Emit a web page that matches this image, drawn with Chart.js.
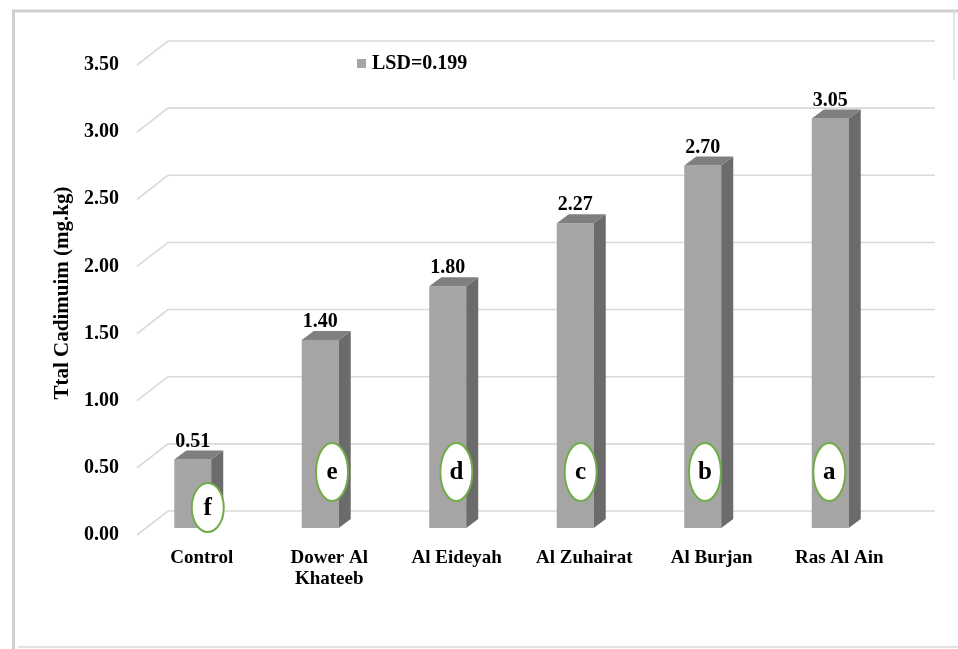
<!DOCTYPE html>
<html><head><meta charset="utf-8">
<script src="https://cdn.jsdelivr.net/npm/chart.js@4"></script>
<style>html,body{margin:0;padding:0;background:#fff;}#wrap{width:958px;height:649px;}</style>
</head><body><div id="wrap"><canvas id="c" width="958" height="649"></canvas></div>
<script>
// ---- data ----
const categories = ['Control', ['Dower Al', 'Khateeb'], 'Al Eideyah', 'Al Zuhairat', 'Al Burjan', 'Ras Al Ain'];
const values = [0.51, 1.40, 1.80, 2.27, 2.70, 3.05];
const groups = ['f', 'e', 'd', 'c', 'b', 'a'];
const yTickValues = [0, 0.5, 1.0, 1.5, 2.0, 2.5, 3.0, 3.5];
const seriesLabel = 'LSD=0.199';
const yTitle = 'Ttal Cadimuim (mg.kg)';

// ---- style ----
const FRONT = '#A5A5A5', TOP = '#7F7F7F', SIDE = '#6B6B6B';
const DX = 12, DY = 9;
const SERIF = "'Liberation Serif', 'Times New Roman', serif";

const framePlugin = {
  id: 'frame',
  beforeDraw(chart) {
    const ctx = chart.ctx;
    ctx.save();
    ctx.fillStyle = '#fff';
    ctx.fillRect(0, 0, chart.width, chart.height);
    ctx.strokeStyle = '#CFCFCF';
    ctx.lineWidth = 3;
    ctx.beginPath();
    ctx.moveTo(13.5, chart.height); ctx.lineTo(13.5, 11); ctx.lineTo(chart.width, 11);
    ctx.stroke();
    ctx.strokeStyle = '#E2E2E2';
    ctx.lineWidth = 2;
    ctx.beginPath();
    ctx.moveTo(18, 647); ctx.lineTo(chart.width, 647);
    ctx.moveTo(954, 11); ctx.lineTo(954, 80);
    ctx.stroke();
    ctx.restore();
  }
};

const gridPlugin = {
  id: 'grid3d',
  beforeDatasetsDraw(chart) {
    const ctx = chart.ctx, ys = chart.scales.y, ca = chart.chartArea;
    ctx.save();
    ctx.strokeStyle = '#D9D9D9';
    ctx.lineWidth = 1.6;
    ctx.beginPath();
    ys.ticks.forEach(t => {
      const py = ys.getPixelForValue(t.value);
      ctx.moveTo(ca.left + 8, py + 7);
      ctx.lineTo(ca.left + 39, py - 17);
      ctx.lineTo(ca.right + 41, py - 17);
    });
    ctx.stroke();
    ctx.restore();
  }
};

const barPlugin = {
  id: 'bar3d',
  afterDatasetsDraw(chart) {
    const ctx = chart.ctx, ys = chart.scales.y;
    const meta = chart.getDatasetMeta(0);
    ctx.save();
    meta.data.forEach((bar, i) => {
      const p = bar.getProps(['x', 'y', 'base', 'width'], true);
      const l = p.x - p.width / 2, r = p.x + p.width / 2;
      // side
      ctx.fillStyle = SIDE;
      ctx.beginPath();
      ctx.moveTo(r, p.y); ctx.lineTo(r + DX, p.y - DY); ctx.lineTo(r + DX, p.base - DY); ctx.lineTo(r, p.base);
      ctx.closePath(); ctx.fill();
      // top
      ctx.fillStyle = TOP;
      ctx.beginPath();
      ctx.moveTo(l, p.y); ctx.lineTo(l + DX, p.y - DY); ctx.lineTo(r + DX, p.y - DY); ctx.lineTo(r, p.y);
      ctx.closePath(); ctx.fill();
      // value label
      ctx.fillStyle = '#000';
      ctx.font = 'bold 20px ' + SERIF;
      ctx.textAlign = 'center';
      ctx.textBaseline = 'middle';
      ctx.fillText(values[i].toFixed(2), p.x, p.y - 18);
      // group letter oval
      const cy = Math.max(ys.getPixelForValue(0.417), p.y + 48);
      const cx = p.x + 15 - 3.2 * i;
      const h = cy > 490 ? 49 : 58;
      ctx.beginPath();
      ctx.ellipse(cx, cy, 16, h / 2, 0, 0, Math.PI * 2);
      ctx.fillStyle = '#fff';
      ctx.fill();
      ctx.strokeStyle = '#70AD47';
      ctx.lineWidth = 2;
      ctx.stroke();
      ctx.fillStyle = '#000';
      ctx.font = 'bold 25px ' + SERIF;
      ctx.fillText(groups[i], cx, cy + 1);
    });
    ctx.restore();
  },
  afterDraw(chart) {
    const ctx = chart.ctx;
    ctx.save();
    ctx.fillStyle = FRONT;
    ctx.fillRect(357, 59, 9, 9);
    ctx.fillStyle = '#000';
    ctx.font = 'bold 20px ' + SERIF;
    ctx.textAlign = 'left';
    ctx.textBaseline = 'middle';
    ctx.fillText(chart.data.datasets[0].label, 372, 64);
    ctx.restore();
  }
};

new Chart(document.getElementById('c'), {
  type: 'bar',
  data: {
    labels: categories,
    datasets: [{
      label: seriesLabel,
      data: values,
      backgroundColor: FRONT,
      borderWidth: 0,
      barPercentage: 0.29,
      categoryPercentage: 1
    }]
  },
  options: {
    responsive: false,
    animation: false,
    devicePixelRatio: 1,
    layout: { padding: { left: 48, right: 64, top: 58, bottom: 21 } },
    plugins: { legend: { display: false }, tooltip: { enabled: false } },
    scales: {
      x: {
        grid: { display: false, drawTicks: false },
        border: { display: false },
        ticks: {
          font: { family: SERIF, size: 19, weight: 'bold', lineHeight: 1.1 },
          color: '#000', padding: 20, labelOffset: 9, maxRotation: 0, autoSkip: false
        },
        afterFit(s) { s.height = 100; }
      },
      y: {
        min: 0, max: 3.5,
        afterBuildTicks(s) { s.ticks = yTickValues.map(v => ({ value: v })); },
        grid: { display: false, drawTicks: false },
        border: { display: false },
        ticks: {
          font: { family: SERIF, size: 20, weight: 'bold' },
          color: '#000', padding: 10, labelOffset: 7,
          callback: v => Number(v).toFixed(2)
        },
        title: {
          display: true, text: yTitle, color: '#000', padding: { top: 2, bottom: 0 },
          font: { family: SERIF, size: 21, weight: 'bold' }
        },
        afterFit(s) { s.width = 81; }
      }
    }
  },
  plugins: [framePlugin, gridPlugin, barPlugin]
});
</script>
</body></html>
